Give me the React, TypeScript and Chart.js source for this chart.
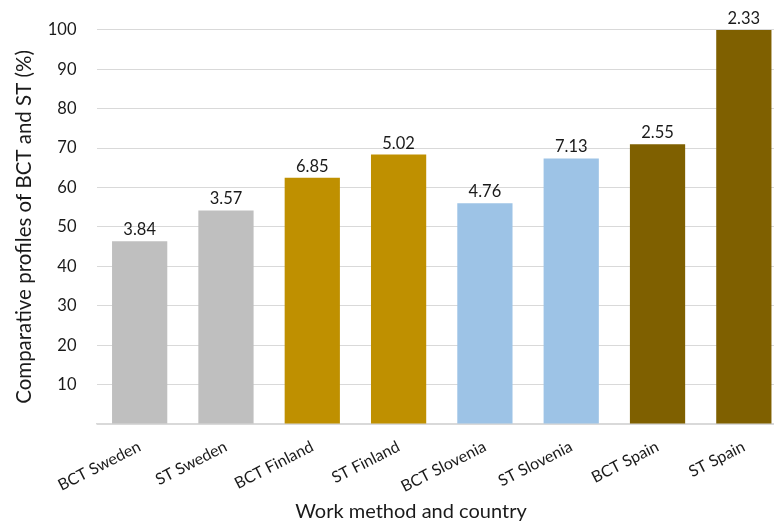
import React, { useEffect, useRef } from "react";
import { Chart, registerables } from "chart.js";

Chart.register(...registerables);

const categories = ["BCT Sweden", "ST Sweden", "BCT Finland", "ST Finland", "BCT Slovenia", "ST Slovenia", "BCT Spain", "ST Spain"];
const profileValues = [46.4, 54.2, 62.5, 68.4, 56.0, 67.4, 71.0, 100];
const barLabels = ["3.84", "3.57", "6.85", "5.02", "4.76", "7.13", "2.55", "2.33"];
const barColors = ["#BFBFBF", "#BFBFBF", "#BF9000", "#BF9000", "#9DC3E6", "#9DC3E6", "#7F6000", "#7F6000"];
const xTitle = "Work method and country";
const yTitle = "Comparative profiles of BCT and ST (%)";

const FONT = "Lato, 'Open Sans', sans-serif";
const TEXT = "#1a1a1a";

const labelPlugin = {
  id: "barLabels",
  afterDatasetsDraw(chart: any) {
    const ctx = chart.ctx;
    const meta = chart.getDatasetMeta(0);
    ctx.save();
    ctx.fillStyle = TEXT;
    ctx.font = `16.5px ${FONT}`;
    ctx.textAlign = "center";
    ctx.textBaseline = "bottom";
    meta.data.forEach((bar: any, i: number) => {
      ctx.fillText(barLabels[i], bar.x, bar.y - 3);
    });
    ctx.font = `20px ${FONT}`;
    ctx.textBaseline = "middle";
    ctx.fillText(xTitle, 411, 512);
    ctx.restore();
  },
};

export default function App() {
  const ref = useRef<HTMLCanvasElement>(null);
  useEffect(() => {
    if (!ref.current) return;
    const chart = new Chart(ref.current, {
      type: "bar",
      data: {
        labels: categories,
        datasets: [
          {
            data: profileValues,
            backgroundColor: barColors,
            categoryPercentage: 1,
            barPercentage: 0.64,
          },
        ],
      },
      options: {
        animation: false,
        responsive: false,
        maintainAspectRatio: false,
        layout: { padding: { top: 29, right: 3, left: 0, bottom: 0 } },
        plugins: { legend: { display: false }, tooltip: { enabled: false } },
        scales: {
          x: {
            grid: { display: false, drawTicks: false },
            border: { color: "#D9D9D9", width: 1.5 },
            afterFit: (s: any) => {
              s.height = 100;
            },
            ticks: {
              color: TEXT,
              font: { family: FONT, size: 16 },
              minRotation: 27,
              maxRotation: 27,
              padding: 13,
            },
          },
          y: {
            min: 0,
            max: 100,
            grid: { color: "#D9D9D9", lineWidth: 1, drawTicks: false },
            border: { display: false },
            afterFit: (s: any) => {
              s.width = 96.5;
            },
            ticks: {
              stepSize: 10,
              color: TEXT,
              font: { family: FONT, size: 16.5 },
              padding: 20,
              callback: (v: any) => (v === 0 ? "" : String(v)),
            },
            title: {
              display: true,
              text: yTitle,
              color: TEXT,
              font: { family: FONT, size: 20.5 },
              padding: { top: 12, bottom: 4 },
            },
          },
        },
      },
      plugins: [labelPlugin],
    });
    return () => chart.destroy();
  }, []);
  return (
    <div style={{ position: "absolute", left: 0, top: 0, width: 774, height: 524, overflow: "hidden", background: "#fff" }}>
      <canvas ref={ref} width={790} height={524} style={{ width: 790, height: 524 }} />
    </div>
  );
}
